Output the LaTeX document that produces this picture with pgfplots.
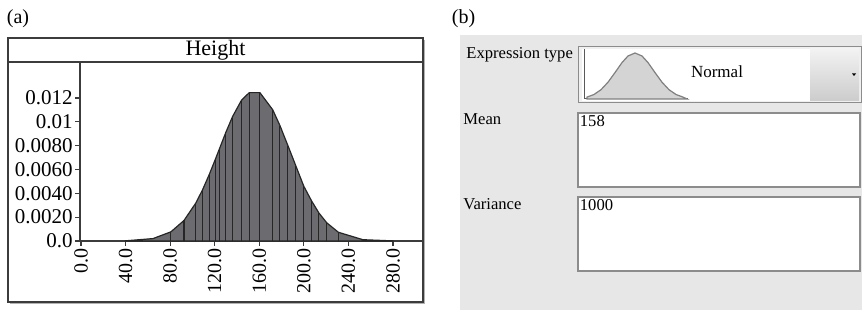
\documentclass[border=0pt]{standalone}
\usepackage{pgfplots}
\pgfplotsset{compat=1.18}
\usepackage{fontspec}
\setmainfont{Liberation Serif}
\definecolor{histgray}{RGB}{108,108,112}
\definecolor{bgcol}{RGB}{231,231,231}
\definecolor{framecol}{RGB}{60,60,60}
\definecolor{boxborder}{RGB}{140,140,140}
\begin{document}
\begin{tikzpicture}
\useasboundingbox (0,0) rectangle (431pt,155pt);
% ---------- decorations in pixel coordinates ----------
\begin{scope}[x=0.5pt, y=-0.5pt, shift={(0pt,155pt)}]
  % panel (a) frame
  \draw[black!30, line width=0.7pt] (10,303.6) -- (424.6,303.6) -- (424.6,40);
  \draw[framecol, line width=0.6pt] (8,38) rectangle (423,302);
  \draw[framecol, line width=0.6pt] (8,62) -- (423,62);
  \node[font=\fontsize{11}{13}\selectfont] at (215.5,50) {Height};
  \node[font=\fontsize{10}{12}\selectfont] at (18,19) {(a)};
  % panel (b)
  \node[font=\fontsize{10}{12}\selectfont] at (463.5,19) {(b)};
  \fill[bgcol] (460,35) rectangle (862,310);
  \node[anchor=base west, inner sep=0pt, font=\fontsize{8.3}{10}\selectfont] at (466,59) {Expression type};
  \node[anchor=base west, inner sep=0pt, font=\fontsize{8.3}{10}\selectfont] at (463,125) {Mean};
  \node[anchor=base west, inner sep=0pt, font=\fontsize{8.3}{10}\selectfont] at (463,210) {Variance};
  % combo box
  \filldraw[fill=black!6, draw=boxborder, line width=0.5pt] (578,47) rectangle (861,103);
  \fill[white] (582,49) rectangle (810,101);
  \shade[top color=black!5, bottom color=black!20] (810,49) rectangle (859,101);
  \fill[black] (852,73.5) -- (856,73.5) -- (854,76) -- cycle;
  \node[font=\fontsize{8.5}{10}\selectfont] at (717,72) {Normal};
  % text boxes
  \filldraw[fill=white, draw=boxborder, line width=0.6pt] (578,113) rectangle (860,187);
  \filldraw[fill=white, draw=boxborder, line width=0.6pt] (578,197) rectangle (860,271);
  \node[anchor=base west, inner sep=0pt, font=\fontsize{8.3}{10}\selectfont] at (579.5,127) {158};
  \node[anchor=base west, inner sep=0pt, font=\fontsize{8.3}{10}\selectfont] at (579.5,211) {1000};
\end{scope}
% ---------- panel (a) histogram ----------
\begin{axis}[
  at={(40pt,34.5pt)}, anchor=south west,
  scale only axis, width=171.5pt, height=89.5pt,
  xmin=-0.9, xmax=306.9, ymin=0, ymax=0.01502,
  axis x line=bottom, axis y line=left,
  axis line style={-, framecol, line width=0.6pt},
  tick align=outside, major tick length=2.5pt,
  tick style={framecol, line width=0.6pt},
  xtick={0,40,80,120,160,200,240,280},
  xticklabels={0.0,40.0,80.0,120.0,160.0,200.0,240.0,280.0},
  xticklabel style={rotate=90, anchor=east, font=\fontsize{10}{12}\selectfont, inner sep=1pt},
  ytick={0,0.002,0.004,0.006,0.008,0.01,0.012},
  yticklabels={0.0,0.0020,0.0040,0.0060,0.0080,0.01,0.012},
  yticklabel style={font=\fontsize{10.5}{12}\selectfont, inner sep=1pt},
  scaled y ticks=false, scaled x ticks=false,
  /pgf/number format/assume math mode=true,
  clip=false,
]
\addplot[fill=histgray, draw=black!85, line width=0.6pt] coordinates {
 (40,0.000016) (64.6,0.000202) (80.7,0.00077) (92.4,0.00172) (103,0.00318)
 (109,0.00428) (115,0.00556) (121,0.00696) (124,0.00768) (130,0.00912)
 (136,0.01044) (144,0.01181) (151,0.01245) (160.5,0.01245) (172,0.01102)
 (178.5,0.00969) (185.7,0.0080) (192.8,0.00630) (200,0.00458) (207,0.00335)
 (213.5,0.00235) (220.6,0.00152) (231,0.00073) (253,0.000109) (280,0.00001)
} \closedcycle;
\addplot[ycomb, black!85, line width=0.55pt] coordinates {
 (80.7,0.00077) (92.4,0.00172) (103,0.00318)
 (109,0.00428) (115,0.00556) (121,0.00696) (124,0.00768) (130,0.00912)
 (136,0.01044) (144,0.01181) (151,0.01245) (160.5,0.01245) (172,0.01102)
 (178.5,0.00969) (185.7,0.0080) (192.8,0.00630) (200,0.00458) (207,0.00335)
 (213.5,0.00235) (220.6,0.00152) (231,0.00073)
};
\end{axis}
% ---------- panel (b) mini normal icon ----------
\begin{axis}[
  at={(292pt,105.5pt)}, anchor=south west,
  scale only axis, width=52pt, height=25pt,
  xmin=0, xmax=104, ymin=0, ymax=50,
  axis x line=bottom, axis y line=left,
  axis line style={-, black!65, line width=0.5pt},
  xtick=\empty, ytick=\empty, clip=false,
]
\addplot[fill=black!17, draw=black!50, line width=0.6pt] coordinates {
 (3,1.9) (10,4.5) (17,9.3) (24,16.8) (31,26.4) (38,36.4) (44,43) (51,46)
 (58,43) (64,36.4) (71,26.4) (78,16.8) (85,9.3) (92,4.5) (99,1.9) (103,0)
} \closedcycle;
\end{axis}
\end{tikzpicture}
\end{document}
